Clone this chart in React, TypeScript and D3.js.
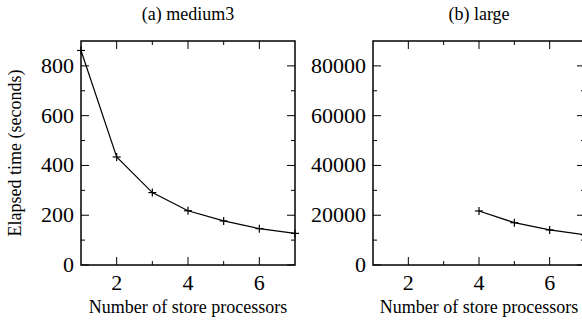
import * as d3 from "d3";

// processors on the x axis
const procsMedium = [1, 2, 3, 4, 5, 6, 7];
const timeMedium = [862, 434, 291, 218, 177, 146, 127];

const procsLarge = [4, 5, 6, 7];
const timeLarge = [21700, 17000, 14100, 12100];

const xTicksMajor = [2, 4, 6];
const xTicksMinor = [3, 5];
const yTicksMedium = [0, 200, 400, 600, 800];
const yTicksLarge = [0, 20000, 40000, 60000, 80000];

const labelStyle = { fontFamily: "'Liberation Serif', 'DejaVu Serif', serif", fontSize: "18px" };
const tickStyle = { fontFamily: "'Liberation Serif', 'DejaVu Serif', serif", fontSize: "22px" };

type PanelProps = {
  left: number;
  right: number;
  title: string;
  xs: number[];
  ys: number[];
  yMax: number;
  yTicks: number[];
  showYLabel: boolean;
};

function Panel({ left, right, title, xs, ys, yMax, yTicks, showYLabel }: PanelProps) {
  const top = 41;
  const bottom = 265;
  const x = d3.scaleLinear().domain([1, 7]).range([left, right]);
  const y = d3.scaleLinear().domain([0, yMax]).range([bottom, top]);
  const step = yTicks[1] - yTicks[0];
  const yMinor = yTicks.map((t) => t + step / 2).filter((t) => t < yMax);
  const line = d3
    .line<number>()
    .x((_, i) => x(xs[i]))
    .y((d) => y(d));
  const big = 8;
  const small = 4;
  const cross = 4;

  return (
    <g>
      <text x={(left + right) / 2} y={20} textAnchor="middle" style={labelStyle}>
        {title}
      </text>
      <rect x={left} y={top} width={right - left} height={bottom - top} fill="none" stroke="#000" strokeWidth={1.5} />
      {/* x ticks, bottom and top */}
      {xTicksMajor.map((t) => (
        <g key={"xm" + t}>
          <line x1={x(t)} x2={x(t)} y1={bottom} y2={bottom - big} stroke="#000" />
          <line x1={x(t)} x2={x(t)} y1={top} y2={top + big} stroke="#000" />
          <text x={x(t)} y={290} textAnchor="middle" style={tickStyle}>
            {t}
          </text>
        </g>
      ))}
      {xTicksMinor.map((t) => (
        <g key={"xn" + t}>
          <line x1={x(t)} x2={x(t)} y1={bottom} y2={bottom - small} stroke="#000" />
          <line x1={x(t)} x2={x(t)} y1={top} y2={top + small} stroke="#000" />
        </g>
      ))}
      {/* y ticks, left and right */}
      {yTicks.map((t) => (
        <g key={"ym" + t}>
          <line x1={left} x2={left + big} y1={y(t)} y2={y(t)} stroke="#000" />
          <line x1={right} x2={right - big} y1={y(t)} y2={y(t)} stroke="#000" />
          <text x={left - 7} y={y(t) + 7} textAnchor="end" style={tickStyle}>
            {t}
          </text>
        </g>
      ))}
      {yMinor.map((t) => (
        <g key={"yn" + t}>
          <line x1={left} x2={left + small} y1={y(t)} y2={y(t)} stroke="#000" />
          <line x1={right} x2={right - small} y1={y(t)} y2={y(t)} stroke="#000" />
        </g>
      ))}
      <path d={line(ys) ?? ""} fill="none" stroke="#000" strokeWidth={1.2} />
      {ys.map((v, i) => (
        <g key={"p" + i} stroke="#000" strokeWidth={1.2}>
          <line x1={x(xs[i]) - cross} x2={x(xs[i]) + cross} y1={y(v)} y2={y(v)} />
          <line x1={x(xs[i])} x2={x(xs[i])} y1={y(v) - cross} y2={y(v) + cross} />
        </g>
      ))}
      <text x={(left + right) / 2} y={313} textAnchor="middle" style={labelStyle}>
        Number of store processors
      </text>
      {showYLabel && (
        <text
          transform={`translate(21,${(top + bottom) / 2}) rotate(-90)`}
          textAnchor="middle"
          style={labelStyle}
        >
          Elapsed time (seconds)
        </text>
      )}
    </g>
  );
}

export default function App() {
  return (
    <svg width={582} height={324} style={{ position: "absolute", left: 0, top: 0, background: "#fff" }}>
      <Panel
        left={81}
        right={295}
        title="(a) medium3"
        xs={procsMedium}
        ys={timeMedium}
        yMax={900}
        yTicks={yTicksMedium}
        showYLabel
      />
      <Panel
        left={373}
        right={585}
        title="(b) large"
        xs={procsLarge}
        ys={timeLarge}
        yMax={90000}
        yTicks={yTicksLarge}
        showYLabel={false}
      />
    </svg>
  );
}
